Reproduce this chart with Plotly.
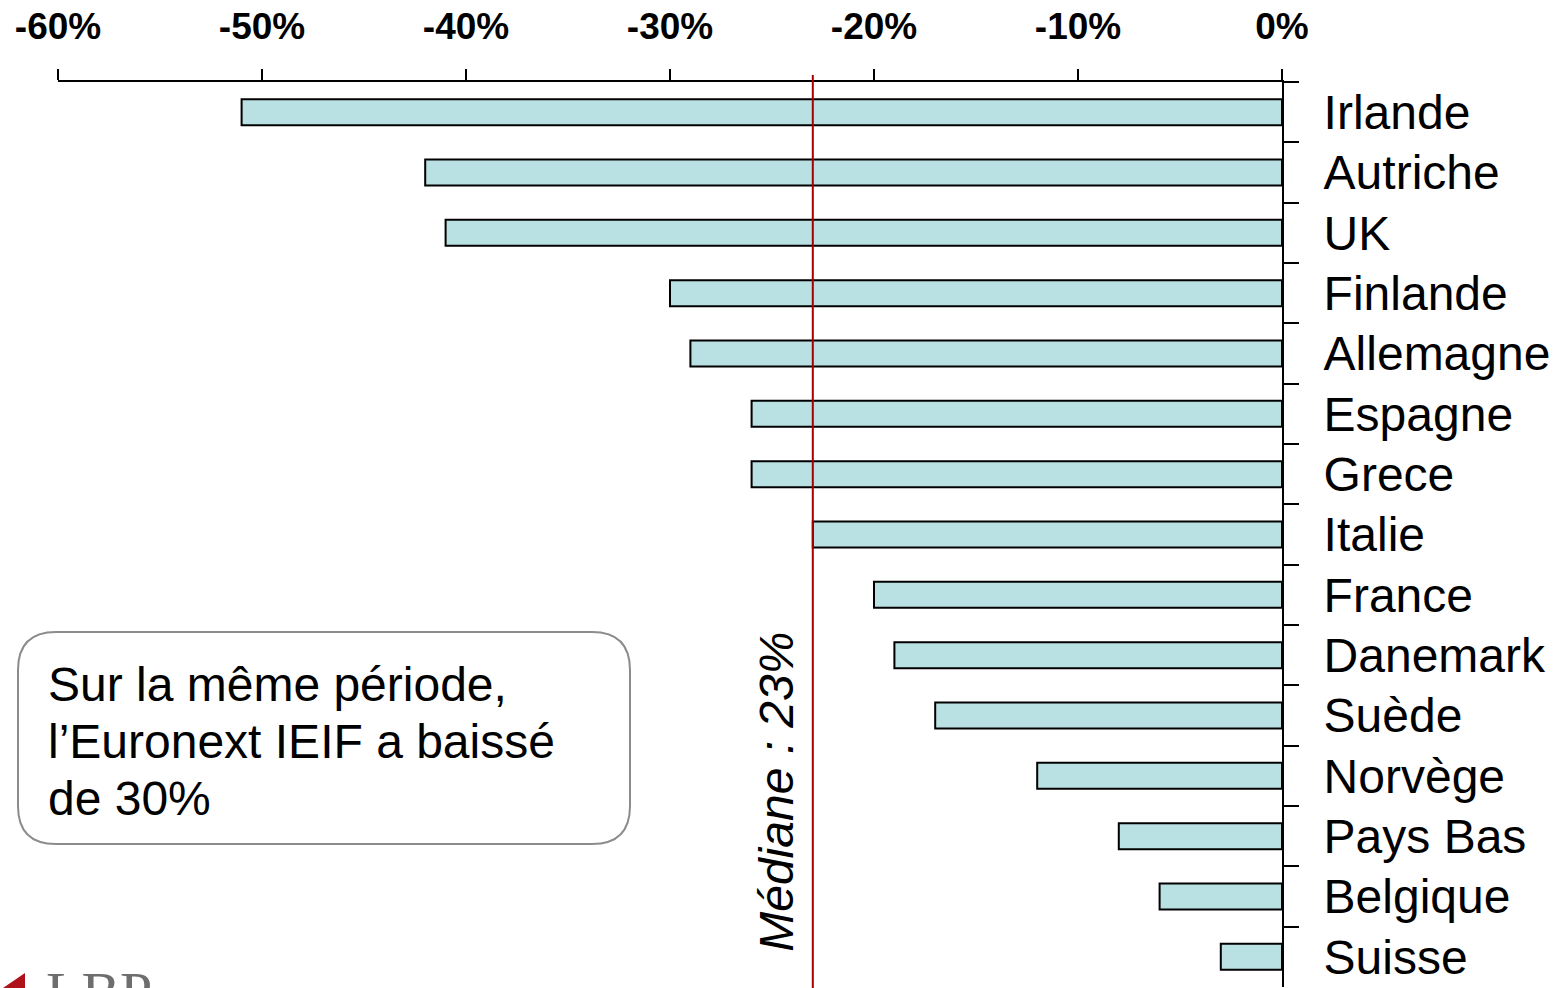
import plotly.graph_objects as go

# Baisse par pays (en %)
pays = ["Irlande", "Autriche", "UK", "Finlande", "Allemagne", "Espagne", "Grece",
        "Italie", "France", "Danemark", "Suède", "Norvège", "Pays Bas", "Belgique", "Suisse"]
baisse = [-51, -42, -41, -30, -29, -26, -26, -23, -20, -19, -17, -12, -8, -6, -3]
mediane = -23

x_ticks = [-60, -50, -40, -30, -20, -10, 0]
x_ticktext = ["-60%", "-50%", "-40%", "-30%", "-20%", "-10%", "0%"]

note_lines = ["Sur la même période,", "l\u2019Euronext IEIF a baissé", "de 30%"]
mediane_label = "Médiane : 23%"

W, H = 1555, 988
ML, MR, MT, MB = 58, 273, 82, 1
PW, PH = W - ML - MR, H - MT - MB
FONT = "Liberation Sans, Arial, sans-serif"


def px(xp):
    return (xp - ML) / PW


def py(yp):
    return (H - MB - yp) / PH


fig = go.Figure()
fig.add_trace(go.Bar(
    x=baisse, y=pays, orientation="h", width=0.43,
    marker=dict(color="#B9E0E3", line=dict(color="black", width=2)),
    hoverinfo="skip",
))

# ligne de la médiane
fig.add_shape(type="line", xref="x", yref="paper", x0=mediane, x1=mediane,
              y0=-0.01, y1=py(75), line=dict(color="#A80000", width=2), layer="above")
fig.add_annotation(x=mediane, xref="x", xshift=-37, y=py(792), yref="paper",
                   xanchor="center", yanchor="middle",
                   text=mediane_label, textangle=-90, showarrow=False,
                   font=dict(family=FONT, size=48, style="italic", color="black"))

# encadré arrondi
x0, x1, y0, y1, r = 18, 630, 632, 844, 38
path = (f"M {px(x0 + r)} {py(y0)} L {px(x1 - r)} {py(y0)} "
        f"Q {px(x1)} {py(y0)} {px(x1)} {py(y0 + r)} L {px(x1)} {py(y1 - r)} "
        f"Q {px(x1)} {py(y1)} {px(x1 - r)} {py(y1)} L {px(x0 + r)} {py(y1)} "
        f"Q {px(x0)} {py(y1)} {px(x0)} {py(y1 - r)} L {px(x0)} {py(y0 + r)} "
        f"Q {px(x0)} {py(y0)} {px(x0 + r)} {py(y0)} Z")
fig.add_shape(type="path", xref="paper", yref="paper", path=path,
              line=dict(color="#8C8C8C", width=2), fillcolor="white", layer="above")
for i, line in enumerate(note_lines):
    fig.add_annotation(x=px(46), y=py(684 + 57 * i), xref="paper", yref="paper",
                       xanchor="left", yanchor="middle", text=line, showarrow=False,
                       font=dict(family=FONT, size=48, color="black"))

# logo
fig.add_shape(type="path", xref="paper", yref="paper",
              path=f"M {px(0)} {py(990)} L {px(25)} {py(973)} L {px(25)} {py(990)} Z",
              fillcolor="#B0121B", line=dict(width=0), layer="above")
fig.add_annotation(x=px(44), y=py(958), xref="paper", yref="paper",
                   xanchor="left", yanchor="top", text="LBP", showarrow=False,
                   font=dict(family="Liberation Serif, serif", size=58, color="#6E6E6E"))

fig.update_layout(
    width=W, height=H,
    margin=dict(l=ML, r=MR, t=MT, b=MB),
    plot_bgcolor="white", paper_bgcolor="white",
    showlegend=False,
    bargap=0.57,
    xaxis=dict(
        side="top", range=[-60, 0], tickvals=x_ticks, ticktext=x_ticktext,
        ticks="outside", ticklen=11, tickwidth=2, tickcolor="black",
        showline=True, linecolor="black", linewidth=2,
        showgrid=False, zeroline=False, ticklabelstandoff=15,
        tickfont=dict(family=FONT, size=37, weight="bold", color="black"),
    ),
    yaxis=dict(
        side="right", categoryorder="array", categoryarray=pays,
        autorange="reversed", tickson="boundaries",
        ticks="outside", ticklen=15, tickwidth=2, tickcolor="black",
        showline=True, linecolor="black", linewidth=2,
        showgrid=False, zeroline=False, ticklabelstandoff=30,
        tickfont=dict(family=FONT, size=48, color="black"),
    ),
)

fig.write_html("out.html")
